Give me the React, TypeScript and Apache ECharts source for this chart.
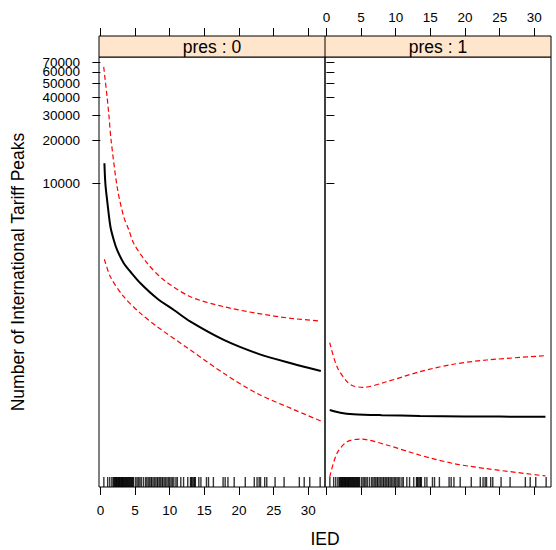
import React, { useEffect, useRef } from "react";
import * as echarts from "echarts";

// ---- data ----
const panelLabels = ["pres : 0", "pres : 1"];
const xTickValues = [0, 5, 10, 15, 20, 25, 30];
const yTickValues = [10000, 20000, 30000, 40000, 50000, 60000, 70000];
const yLabelsA = [10000, 20000, 30000, 40000, 50000, 70000];
const yLabelsB = [60000];

// pres : 0
const fit0X = [0.58, 0.72, 0.97, 1.45, 1.93, 2.41, 3.37, 4.34, 5.78, 8.19, 10.6, 13.0, 17.8, 22.6, 27.5, 31.8];
const fit0Y = [13870, 10000, 7700, 5020, 4060, 3460, 2800, 2440, 2030, 1590, 1322, 1096, 818, 660, 563, 498];
const upper0X = [0.48, 0.97, 1.2, 1.55, 2.45, 3.37, 4.1, 4.8, 6.75, 9.15, 13.0, 17.8, 22.6, 27.5, 31.8];
const upper0Y = [65000, 40000, 31000, 20000, 9300, 5890, 4780, 3850, 2800, 2140, 1635, 1394, 1253, 1156, 1108];
const lower0X = [0.58, 1.45, 3.37, 5.78, 8.19, 13.0, 17.8, 22.6, 27.5, 31.8];
const lower0Y = [2980, 2250, 1635, 1253, 1011, 696, 479, 347, 273, 223];

// pres : 1
const fit1X = [0.48, 2.0, 3.9, 8.0, 13.5, 20.0, 31.6];
const fit1Y = [266, 255, 249, 245, 242, 240, 239];
const upper1X = [0.48, 1.53, 2.97, 3.9, 5.35, 8.7, 13.5, 18.3, 23.1, 31.6];
const upper1Y = [783, 533, 419, 391, 383, 419, 492, 554, 593, 636];
const lower1X = [0.48, 1.53, 2.97, 4.9, 8.7, 13.5, 18.3, 23.1, 31.6];
const lower1Y = [91, 133, 160, 167, 152, 129, 113, 104, 92.5];

// rug (IED observations)
const rugX = [
  0.5, 1.05, 1.35, 1.65, 1.85, 1.95, 2.05, 2.15, 2.25, 2.3, 2.4, 2.5, 2.6, 2.7, 2.75, 2.85,
  2.95, 3.05, 3.15, 3.2, 3.3, 3.4, 3.5, 3.6, 3.7, 3.8, 3.9, 4.0, 4.1, 4.2, 4.3, 4.4, 4.5,
  4.6, 4.7, 4.8, 5.1, 5.3, 5.5, 5.7, 5.9, 6.2, 6.5, 6.7, 6.9, 7.1, 7.3, 7.4, 7.6, 7.8, 8.0,
  8.2, 8.3, 8.5, 8.7, 8.9, 9.0, 9.2, 9.4, 9.6, 9.8, 10.0, 10.2, 10.4, 10.6, 10.9, 11.1, 11.6,
  12.0, 12.6, 13.0, 13.1, 13.2, 13.35, 13.5, 13.6, 13.7, 14.2, 14.5, 15.3, 15.6, 16.3, 17.7,
  18.0, 18.4, 19.3, 20.9, 22.2, 22.6, 22.9, 23.1, 23.7, 24.0, 25.2, 26.5, 28.7, 29.4, 30.2, 31.7,
];

// ---- layout ----
const FONT = "'Liberation Sans', Arial, Helvetica, sans-serif";
const X_MIN = -0.2;
const X_MAX = 32.4;
const Y_MIN = Math.log10(77.5);
const Y_MAX = Math.log10(76200);
const GRID_LEFT = [99, 325];
const GRID_TOP = 57;
const GRID_W = 226;
const GRID_H = 430;
const STRIP_H = 21;

const pts = (xs: number[], ys: number[]) => xs.map((x, i) => [x, Math.log10(ys[i])]);

export default function App() {
  const ref = useRef<HTMLDivElement>(null);

  useEffect(() => {
    if (!ref.current) return;
    const chart = echarts.init(ref.current, undefined, { renderer: "svg" });
    const axisFont = { fontFamily: FONT, fontSize: 13.5, color: "#000" };
    const lg = (a: number[]) => a.map((v) => Math.log10(v));

    const xAxis = (gridIndex: number, position: string, showTick: boolean, showLabel: boolean, offset: number, margin: number) => ({
      type: "value",
      gridIndex,
      position,
      offset,
      min: X_MIN,
      max: X_MAX,
      axisLine: { show: false },
      splitLine: { show: false },
      axisTick: { show: showTick, inside: false, length: 8, customValues: xTickValues, lineStyle: { color: "#000", width: 1 } },
      axisLabel: {
        show: showLabel,
        customValues: xTickValues,
        margin,
        showMinLabel: true,
        showMaxLabel: true,
        hideOverlap: false,
        ...axisFont,
      },
    });
    const yAxis = (gridIndex: number, position: string, showTick: boolean, labels: number[] | null, offset: number) => ({
      type: "value",
      gridIndex,
      position,
      offset,
      min: Y_MIN,
      max: Y_MAX,
      axisLine: { show: false },
      splitLine: { show: false },
      axisTick: { show: showTick, inside: false, length: 8, customValues: lg(yTickValues), lineStyle: { color: "#000", width: 1 } },
      axisLabel: {
        show: !!labels,
        customValues: labels ? lg(labels) : [],
        margin: 4,
        showMinLabel: true,
        showMaxLabel: true,
        hideOverlap: false,
        formatter: (v: number) => String(Math.round(Math.pow(10, v) / 10) * 10),
        ...axisFont,
      },
    });

    const lineSeries = (idx: number, data: number[][], color: string, width: number, dashed: boolean) => ({
      type: "line",
      xAxisIndex: idx,
      yAxisIndex: idx,
      data,
      showSymbol: false,
      smooth: 0.3,
      lineStyle: { color, width, type: dashed ? [5, 3] : "solid" },
      silent: true,
    });
    const rugSeries = (idx: number) => ({
      type: "scatter",
      xAxisIndex: idx,
      yAxisIndex: idx,
      data: rugX.map((x) => [x, Y_MIN]),
      symbol: "rect",
      symbolSize: [1.4, 10],
      symbolOffset: [0, -5],
      itemStyle: { color: "#000" },
      clip: false,
      silent: true,
    });

    const stripTexts = panelLabels.map((t, i) => ({
      type: "text",
      x: GRID_LEFT[i] + GRID_W / 2,
      y: GRID_TOP - STRIP_H / 2,
      style: { text: t, fontFamily: FONT, fontSize: 17.5, fill: "#000", align: "center", verticalAlign: "middle" },
    }));

    chart.setOption({
      animation: false,
      grid: GRID_LEFT.map((l) => ({
        left: l,
        top: GRID_TOP,
        width: GRID_W,
        height: GRID_H,
        show: true,
        borderColor: "#000",
        borderWidth: 1,
        backgroundColor: "transparent",
        containLabel: false,
      })),
      xAxis: [
        xAxis(0, "bottom", true, false, 0, 4),
        xAxis(1, "bottom", true, false, 0, 4),
        xAxis(0, "top", true, false, STRIP_H, 12),
        xAxis(1, "top", true, true, STRIP_H, 12),
        xAxis(0, "bottom", false, true, 12, 4),
      ],
      yAxis: [
        yAxis(0, "left", true, null, 0),
        yAxis(1, "right", true, null, 0),
        yAxis(0, "left", false, yLabelsA, 15),
        yAxis(0, "left", false, yLabelsB, 15),
      ],
      series: [
        lineSeries(0, pts(upper0X, upper0Y), "#FF0000", 1.2, true),
        lineSeries(0, pts(lower0X, lower0Y), "#FF0000", 1.2, true),
        lineSeries(0, pts(fit0X, fit0Y), "#000", 2, false),
        rugSeries(0),
        lineSeries(1, pts(upper1X, upper1Y), "#FF0000", 1.2, true),
        lineSeries(1, pts(lower1X, lower1Y), "#FF0000", 1.2, true),
        lineSeries(1, pts(fit1X, fit1Y), "#000", 2, false),
        rugSeries(1),
      ],
      graphic: [
        {
          type: "rect",
          shape: { x: GRID_LEFT[0], y: GRID_TOP - STRIP_H, width: GRID_W * 2, height: STRIP_H },
          style: { fill: "#FFE5CC", stroke: "#000", lineWidth: 1 },
        },
        {
          type: "line",
          shape: { x1: GRID_LEFT[1], y1: GRID_TOP - STRIP_H, x2: GRID_LEFT[1], y2: GRID_TOP },
          style: { stroke: "#000", lineWidth: 1 },
        },
        ...stripTexts,
        {
          type: "text",
          x: 18,
          y: GRID_TOP + GRID_H / 2,
          rotation: Math.PI / 2,
          style: {
            text: "Number of International Tariff Peaks",
            fontFamily: FONT,
            fontSize: 17.5,
            fill: "#000",
            align: "center",
            verticalAlign: "middle",
          },
        },
        {
          type: "text",
          x: GRID_LEFT[1],
          y: 539,
          style: { text: "IED", fontFamily: FONT, fontSize: 17.5, fill: "#000", align: "center", verticalAlign: "middle" },
        },
      ],
    });
    return () => chart.dispose();
  }, []);

  return <div ref={ref} style={{ position: "absolute", left: 0, top: 0, width: 556, height: 550 }} />;
}
